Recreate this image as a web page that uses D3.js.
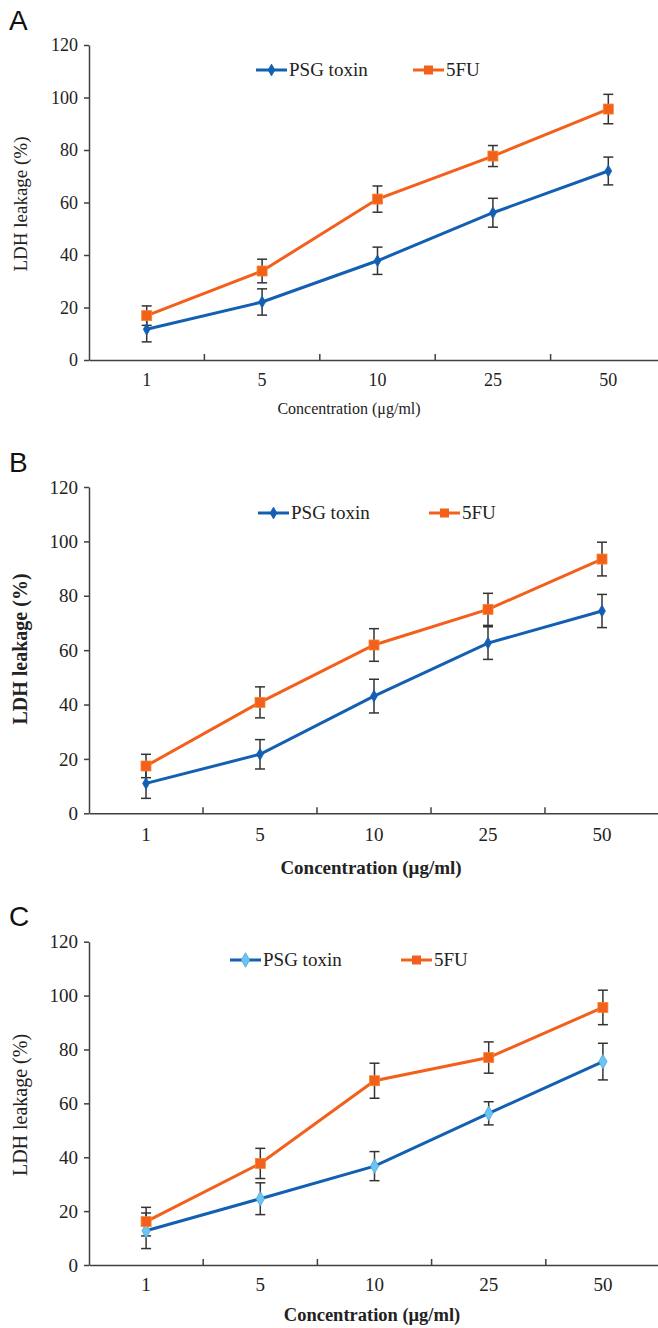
<!DOCTYPE html>
<html>
<head>
<meta charset="utf-8">
<script src="https://cdn.jsdelivr.net/npm/d3@7"></script>
<style>
  body { margin: 0; background: #fff; }
  svg { display: block; }
  .axis path, .axis line { stroke: #404040; stroke-width: 1.5; }
</style>
</head>
<body>
<div id="chart"></div>
<script>
const categories = ["1", "5", "10", "25", "50"];
const yTicks = [0, 20, 40, 60, 80, 100, 120];
const seriesNames = ["PSG toxin", "5FU"];

// panel A
const psgA = [11.7, 22.1, 37.8, 56.1, 72.0];
const psgErrA = [4.8, 5.0, 5.2, 5.5, 5.3];
const fuA = [16.9, 33.9, 61.3, 77.7, 95.6];
const fuErrA = [3.7, 4.5, 5.0, 4.0, 5.6];
// panel B
const psgB = [11.0, 21.7, 43.1, 62.6, 74.4];
const psgErrB = [5.5, 5.4, 6.2, 6.0, 6.1];
const fuB = [17.4, 40.8, 61.9, 75.0, 93.5];
const fuErrB = [4.3, 5.7, 6.0, 5.9, 6.2];
// panel C
const psgC = [12.7, 24.6, 36.7, 56.3, 75.5];
const psgErrC = [6.6, 5.9, 5.4, 4.3, 6.8];
const fuC = [16.1, 37.7, 68.4, 77.0, 95.6];
const fuErrC = [5.3, 5.6, 6.5, 5.8, 6.4];

const blue = "#1360b2";
const lightBlue = "#6cc4f0";
const orange = "#f2601c";
const serif = '"Liberation Serif", "Times New Roman", serif';

const W = 658, H = 1328;
const svg = d3.select("#chart").append("svg")
    .attr("width", W)
    .attr("height", H);

const panels = [
  { letter: "A", letterY: 30, y0: 360, y120: 45, x0: 89, x1: 666, legY: 70,
    legPsg: 256, legFu: 413, tickSize: 18, tickY: 386, titleX: 349, titleY: 414, titleSize: 16,
    titleBold: false, ylabY: 204, ylabSize: 19, ylabBold: false, lightMarker: false,
    psg: psgA, psgErr: psgErrA, fu: fuA, fuErr: fuErrA },
  { letter: "B", letterY: 472, y0: 813.3, y120: 487, x0: 89, x1: 659, legY: 513,
    legPsg: 258, legFu: 429, tickSize: 19, tickY: 841, titleX: 371, titleY: 874, titleSize: 19,
    titleBold: true, ylabY: 649, ylabSize: 20, ylabBold: true, lightMarker: false,
    psg: psgB, psgErr: psgErrB, fu: fuB, fuErr: fuErrB },
  { letter: "C", letterY: 926, y0: 1265, y120: 941.7, x0: 89, x1: 660, legY: 960,
    legPsg: 230, legFu: 401, tickSize: 19, tickY: 1291, titleX: 372, titleY: 1321, titleSize: 18.5,
    titleBold: true, ylabY: 1105, ylabSize: 20, ylabBold: false, lightMarker: true,
    psg: psgC, psgErr: psgErrC, fu: fuC, fuErr: fuErrC }
];

panels.forEach(drawPanel);

function drawPanel(p) {
    const g = svg.append("g");

    const x = d3.scaleBand()
        .domain(categories)
        .range([p.x0, p.x1])
        .padding(0);
    const y = d3.scaleLinear()
        .domain([0, 120])
        .range([p.y0, p.y120]);

    // panel letter
    g.append("text")
        .attr("x", 9)
        .attr("y", p.letterY)
        .attr("font-family", '"Liberation Sans", Arial, sans-serif')
        .attr("font-size", "28px")
        .attr("fill", "#111")
        .text(p.letter);

    // y axis
    const yAxis = d3.axisLeft(y)
        .tickValues(yTicks)
        .tickSize(5)
        .tickSizeOuter(0)
        .tickPadding(6);
    const ya = g.append("g")
        .attr("class", "axis")
        .attr("transform", "translate(" + p.x0 + ",0)")
        .call(yAxis);
    ya.attr("font-family", serif).attr("font-size", p.tickSize);
    ya.selectAll(".tick text").attr("fill", "#222");

    // x axis: labels under bands, ticks between bands pointing up
    const xAxis = d3.axisBottom(x)
        .tickSize(0)
        .tickSizeOuter(0)
        .tickPadding(0);
    const xa = g.append("g")
        .attr("class", "axis")
        .attr("transform", "translate(0," + p.y0 + ")")
        .call(xAxis);
    xa.attr("font-family", serif).attr("font-size", p.tickSize);
    xa.selectAll(".tick text")
        .attr("fill", "#222")
        .attr("dy", null)
        .attr("y", p.tickY - p.y0);
    xa.selectAll(".sep")
        .data(categories.slice(1))
        .enter().append("line")
        .attr("class", "sep")
        .attr("x1", d => x(d))
        .attr("x2", d => x(d))
        .attr("y1", 0)
        .attr("y2", -6);

    // axis titles
    g.append("text")
        .attr("x", p.titleX)
        .attr("y", p.titleY)
        .attr("text-anchor", "middle")
        .attr("font-family", serif)
        .attr("font-size", p.titleSize + "px")
        .attr("font-weight", p.titleBold ? "bold" : "normal")
        .attr("fill", "#222")
        .text("Concentration (\u03bcg/ml)");

    g.append("text")
        .attr("transform", "translate(27," + p.ylabY + ") rotate(-90)")
        .attr("text-anchor", "middle")
        .attr("font-family", serif)
        .attr("font-size", p.ylabSize + "px")
        .attr("font-weight", p.ylabBold ? "bold" : "normal")
        .attr("fill", "#222")
        .text("LDH leakage (%)");

    const cx = d => x(d) + x.bandwidth() / 2;
    const psgData = categories.map((c, i) => ({ c: c, v: p.psg[i], e: p.psgErr[i] }));
    const fuData = categories.map((c, i) => ({ c: c, v: p.fu[i], e: p.fuErr[i] }));

    const line = d3.line()
        .x(d => cx(d.c))
        .y(d => y(d.v));

    [psgData, fuData].forEach((data, k) => {
        g.append("path")
            .datum(data)
            .attr("fill", "none")
            .attr("stroke", k === 0 ? blue : orange)
            .attr("stroke-width", 3)
            .attr("d", line);
    });

    // error bars
    [psgData, fuData].forEach(data => {
        const eb = g.append("g")
            .attr("stroke", "#333")
            .attr("stroke-width", 1.5);
        eb.selectAll(".v").data(data).enter().append("line")
            .attr("x1", d => cx(d.c)).attr("x2", d => cx(d.c))
            .attr("y1", d => y(d.v - d.e)).attr("y2", d => y(d.v + d.e));
        eb.selectAll(".t").data(data).enter().append("line")
            .attr("x1", d => cx(d.c) - 5).attr("x2", d => cx(d.c) + 5)
            .attr("y1", d => y(d.v + d.e)).attr("y2", d => y(d.v + d.e));
        eb.selectAll(".b").data(data).enter().append("line")
            .attr("x1", d => cx(d.c) - 5).attr("x2", d => cx(d.c) + 5)
            .attr("y1", d => y(d.v - d.e)).attr("y2", d => y(d.v - d.e));
    });

    // markers
    const diamond = d3.symbol().type(d3.symbolDiamond).size(p.lightMarker ? 60 : 40);
    g.selectAll(".psgm").data(psgData).enter().append("path")
        .attr("transform", d => "translate(" + cx(d.c) + "," + y(d.v) + ")")
        .attr("d", diamond)
        .attr("fill", p.lightMarker ? lightBlue : blue)
        .attr("stroke", p.lightMarker ? "#4aa8e0" : blue)
        .attr("stroke-width", 0.8);
    g.selectAll(".fum").data(fuData).enter().append("rect")
        .attr("x", d => cx(d.c) - 5)
        .attr("y", d => y(d.v) - 5)
        .attr("width", 10)
        .attr("height", 10)
        .attr("fill", orange)
        .attr("stroke", "#f7862c")
        .attr("stroke-width", 0.8);

    // legend
    const legX = [p.legPsg, p.legFu];
    seriesNames.forEach((name, k) => {
        const lg = g.append("g").attr("transform", "translate(" + legX[k] + "," + p.legY + ")");
        lg.append("line")
            .attr("x1", 0).attr("x2", 31)
            .attr("y1", 0).attr("y2", 0)
            .attr("stroke", k === 0 ? blue : orange)
            .attr("stroke-width", 3);
        if (k === 0) {
            lg.append("path")
                .attr("transform", "translate(15.5,0)")
                .attr("d", diamond)
                .attr("fill", p.lightMarker ? lightBlue : blue)
                .attr("stroke", p.lightMarker ? "#4aa8e0" : blue)
                .attr("stroke-width", 0.8);
        } else {
            lg.append("rect")
                .attr("x", 11).attr("y", -4.5)
                .attr("width", 9).attr("height", 9)
                .attr("fill", orange);
        }
        lg.append("text")
            .attr("x", 33)
            .attr("y", 6)
            .attr("font-family", serif)
            .attr("font-size", "19px")
            .attr("fill", "#222")
            .text(name);
    });
}
</script>
</body>
</html>
